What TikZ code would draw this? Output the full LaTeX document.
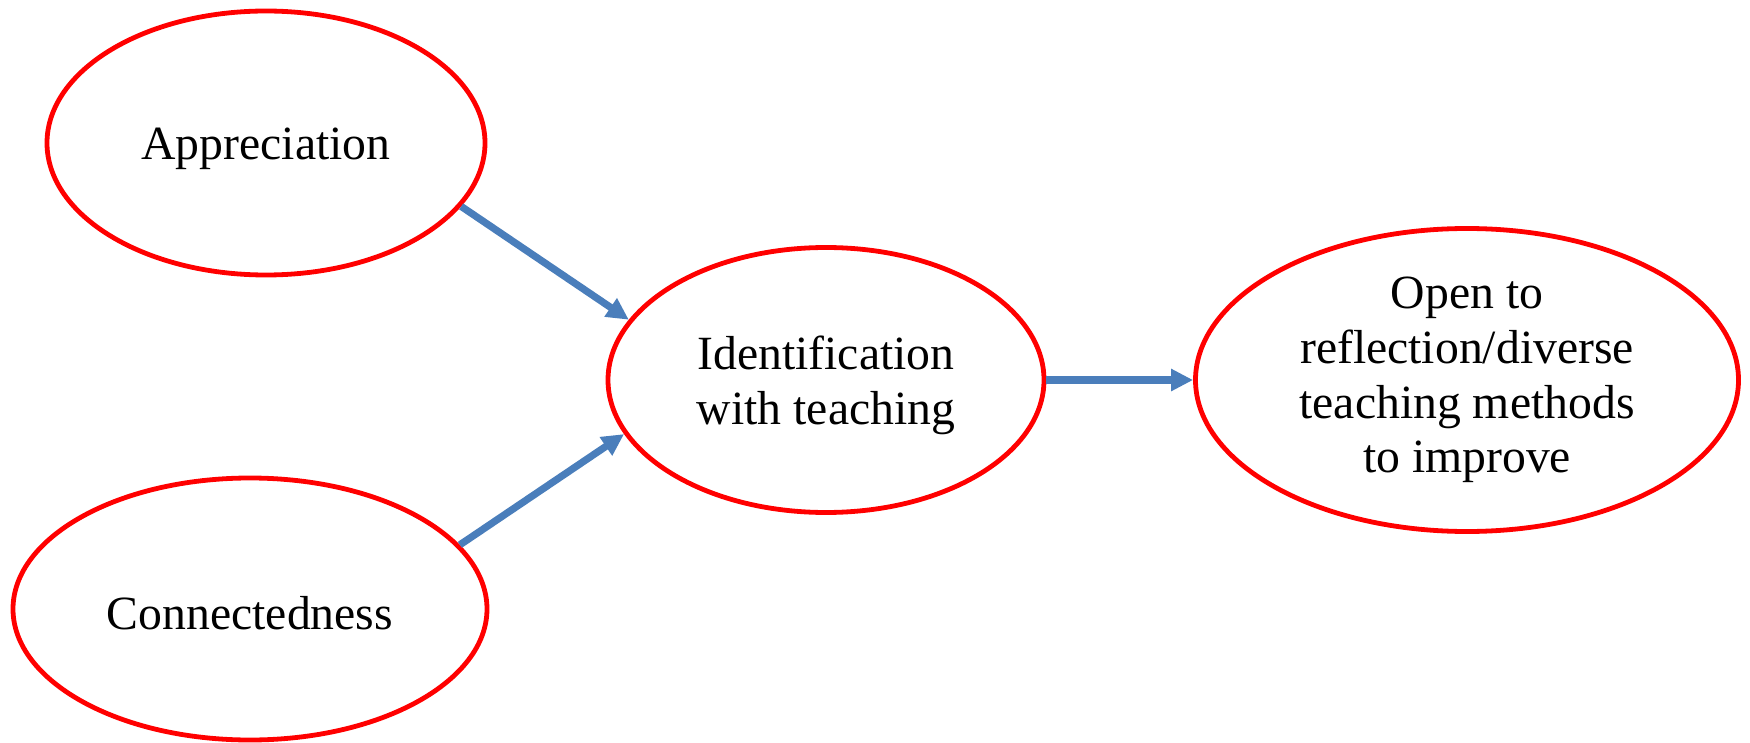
\documentclass[tikz,border=0pt]{standalone}
\usepackage{fontspec}
\setmainfont{Liberation Serif}
\usetikzlibrary{shapes.geometric,arrows.meta}
\definecolor{bubred}{HTML}{FF0000}
\definecolor{arrblue}{HTML}{4A7EBB}
\begin{document}
\begin{tikzpicture}[x=1pt,y=-1pt,
  bub/.style={draw=bubred, line width=4.8pt, ellipse, inner sep=0pt},
  txt/.style={align=center, inner sep=0pt, font=\fontsize{47.7}{54.8}\selectfont},
  conn/.style={draw=arrblue, line width=7.2pt, -{Triangle[length=22pt,width=21pt]}}]
\useasboundingbox (0,0) rectangle (1750,743);
\node[bub, minimum width=438pt, minimum height=264pt] (app) at (266,143) {};
\node[txt] (apptxt) at ([yshift=-6pt]app.center) {Appreciation};
\node[bub, minimum width=474pt, minimum height=262pt] (con) at (250,609) {};
\node[txt] (contxt) at ([yshift=-4pt]con.center) {Connectedness};
\node[bub, minimum width=436pt, minimum height=265pt] (idt) at (826,380) {};
\node[txt] (idttxt) at ([yshift=-5pt]idt.center) {Identification\\with teaching};
\node[bub, minimum width=543pt, minimum height=303pt] (opn) at (1467,380) {};
\node[txt] (opntxt) at ([yshift=0pt]opn.center) {Open to\\reflection/diverse\\teaching methods\\to improve};
\draw[conn] (app.-18) -- (idt.163);
\draw[conn] (con.17) -- (idt.-165);
\draw[conn] (idt.east) -- (opn.west);
\end{tikzpicture}
\end{document}
